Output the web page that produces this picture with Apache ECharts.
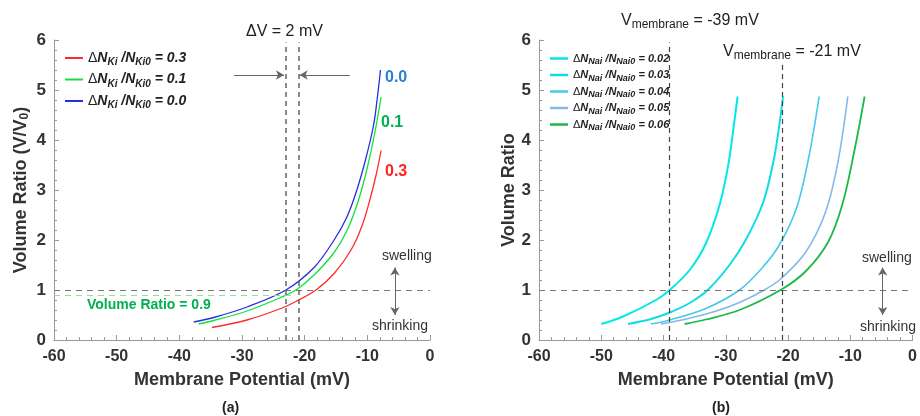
<!DOCTYPE html>
<html>
<head>
<meta charset="utf-8">
<script src="https://cdn.jsdelivr.net/npm/echarts@6/dist/echarts.min.js"></script>
<style>html,body{margin:0;padding:0;background:#fff}#c{width:920px;height:416px}</style>
</head>
<body>
<div id="c"></div>
<script>
// ---------- data ----------
var xTicks = [-60, -50, -40, -30, -20, -10, 0];
var yTicks = [0, 1, 2, 3, 4, 5, 6];

// Panel (a): K+ change
var kNames = ['0.3', '0.1', '0.0'];
var k03 = [[-34.8,0.25],[-29.2,0.40],[-23.8,0.63],[-21.4,0.77],[-18.2,1.00],[-15.3,1.33],[-12.6,1.80],[-10.8,2.30],[-9.5,2.85],[-8.6,3.30],[-7.8,3.79]];
var k01 = [[-36.9,0.32],[-34.5,0.39],[-29.2,0.58],[-24.0,0.84],[-21.4,1.00],[-18.5,1.30],[-15.3,1.75],[-13.2,2.20],[-11.4,2.80],[-10.0,3.45],[-8.8,4.15],[-7.8,4.86]];
var k00 = [[-37.7,0.36],[-34.5,0.45],[-29.2,0.66],[-23.0,1.00],[-18.5,1.45],[-15.3,2.00],[-13.3,2.45],[-11.8,2.95],[-10.3,3.60],[-9.0,4.30],[-8.4,4.85],[-7.9,5.40]];

// Panel (b): Na+ change
var nNames = ['0.02', '0.03', '0.04', '0.05', '0.06'];
var n02 = [[-50.0,0.32],[-46.5,0.47],[-41.2,0.80],[-39.0,1.00],[-35.8,1.40],[-33.2,1.93],[-31.0,2.70],[-29.6,3.50],[-28.8,4.20],[-28.1,4.87]];
var n03 = [[-45.7,0.32],[-42.0,0.42],[-39.0,0.55],[-35.8,0.74],[-32.9,1.00],[-29.4,1.50],[-26.8,2.00],[-24.0,2.75],[-22.3,3.60],[-21.4,4.30],[-20.8,4.87]];
var n04 = [[-42.0,0.32],[-39.0,0.40],[-33.2,0.63],[-27.8,1.00],[-24.1,1.45],[-21.4,1.90],[-18.6,2.65],[-16.6,3.70],[-15.0,4.87]];
var n05 = [[-40.4,0.32],[-36.0,0.43],[-31.5,0.58],[-27.8,0.75],[-23.8,1.00],[-21.2,1.22],[-17.2,1.75],[-14.0,2.55],[-12.0,3.55],[-10.4,4.87]];
var n06 = [[-36.6,0.32],[-33.2,0.41],[-27.8,0.60],[-21.2,1.00],[-17.2,1.37],[-13.6,1.95],[-11.3,2.70],[-9.4,3.75],[-7.7,4.87]];

// reference values
var refA = {vLines: [-23, -21], ratio: 1, greenRatio: 0.9};
var refB = {vLines: [-39, -21], ratio: 1};

// ---------- chart ----------
var FONT = '"Liberation Sans", Arial, Helvetica, sans-serif';
var chart = echarts.init(document.getElementById('c'), null, {renderer: 'canvas'});

function xAxis(gi) {
  return {
    gridIndex: gi, type: 'value', min: xTicks[0], max: xTicks[xTicks.length - 1], interval: 10,
    name: 'Membrane Potential (mV)', nameLocation: 'middle', nameGap: 31,
    nameTextStyle: {fontFamily: FONT, fontWeight: 'bold', fontSize: 18, color: '#333'},
    axisLine: {onZero: false, lineStyle: {color: '#999', width: 1}},
    axisTick: {show: true, inside: true, length: 5, lineStyle: {color: '#999'}},
    minorTick: {show: true, splitNumber: 5, length: 3, lineStyle: {color: '#999'}},
    axisLabel: {fontFamily: FONT, fontWeight: 'bold', fontSize: 16, color: '#333', margin: 9},
    splitLine: {show: false}
  };
}
function yAxis(gi, nm, gap) {
  return {
    gridIndex: gi, type: 'value', min: yTicks[0], max: yTicks[yTicks.length - 1], interval: 1,
    name: nm, nameLocation: 'middle', nameGap: gap,
    nameTextStyle: {fontFamily: FONT, fontWeight: 'bold', fontSize: 18, color: '#333',
      rich: {a: {fontFamily: FONT, fontWeight: 'bold', fontSize: 18, color: '#333'},
             s: {fontFamily: FONT, fontWeight: 'bold', fontSize: 12, color: '#333', padding: [8, 0, 0, 0]}}},
    axisLine: {show: true, onZero: false, lineStyle: {color: '#999', width: 1}},
    axisTick: {show: true, inside: true, length: 5, lineStyle: {color: '#999'}},
    minorTick: {show: true, splitNumber: 5, length: 3, lineStyle: {color: '#999'}},
    axisLabel: {fontFamily: FONT, fontWeight: 'bold', fontSize: 17, color: '#333', margin: 8},
    splitLine: {show: false}
  };
}

function vLineData(vals, top, style) {
  return vals.map(function (v, i) { return [{coord: [v, 0], lineStyle: style}, {coord: [v, top[i]]}]; });
}

function curve(name, axis, data, color, width) {
  return {name: name, type: 'line', xAxisIndex: axis, yAxisIndex: axis, data: data,
    smooth: 0.35,
    showSymbol: false, lineStyle: {color: color, width: width}, itemStyle: {color: color}};
}

var series = [
  curve(kNames[0], 0, k03, '#ff2a2a', 1.3),
  curve(kNames[1], 0, k01, '#14e03c', 1.3),
  curve(kNames[2], 0, k00, '#2430e0', 1.3),
  curve(nNames[0], 1, n02, '#00e8e8', 2),
  curve(nNames[1], 1, n03, '#10dce6', 2),
  curve(nNames[2], 1, n04, '#48c8ec', 1.6),
  curve(nNames[3], 1, n05, '#84b8ec', 1.6),
  curve(nNames[4], 1, n06, '#1cb848', 1.8)
];
// reference lines (a)
series[0].markLine = {silent: true, symbol: 'none', animation: false, label: {show: false},
  data: [
    [{coord: [-60, refA.ratio], lineStyle: {type: [6, 5], color: '#777', width: 1.2}}, {coord: [0, refA.ratio]}],
    [{coord: [-60, refA.greenRatio], lineStyle: {type: [6, 5], color: '#8fe08f', width: 1.2}}, {coord: [-21.5, refA.greenRatio]}]
  ].concat(vLineData(refA.vLines, [5.95, 5.95], {type: [5, 4], color: '#666', width: 1.5}))};
series[1].markLine = {silent: true, animation: false, label: {show: false}, symbol: ['none', 'arrow'], symbolSize: [7, 8],
  lineStyle: {type: 'solid', color: '#666', width: 1},
  data: [[{coord: [-31.3, 5.3]}, {coord: [-23.3, 5.3]}], [{coord: [-12.8, 5.3]}, {coord: [-20.8, 5.3]}]]};
series[2].markLine = {silent: true, animation: false, label: {show: false}, symbol: ['arrow', 'arrow'], symbolSize: [7, 8],
  lineStyle: {type: 'solid', color: '#666', width: 1},
  data: [[{coord: [-5.6, 0.5]}, {coord: [-5.6, 1.45]}]]};
// reference lines (b)
series[3].markLine = {silent: true, symbol: 'none', animation: false, label: {show: false},
  data: [
    [{coord: [-60, refB.ratio], lineStyle: {type: [6, 5], color: '#777', width: 1.2}}, {coord: [0, refB.ratio]}]
  ].concat(vLineData(refB.vLines, [5.95, 5.5], {type: [5, 4], color: '#444', width: 1.2}))};
series[4].markLine = {silent: true, animation: false, label: {show: false}, symbol: ['arrow', 'arrow'], symbolSize: [7, 8],
  lineStyle: {type: 'solid', color: '#666', width: 1},
  data: [[{coord: [-4.8, 0.5]}, {coord: [-4.8, 1.45]}]]};

var legRichA = {
  a: {fontFamily: FONT, fontWeight: 'bold', fontStyle: 'italic', fontSize: 14, color: '#222'},
  d: {fontFamily: FONT, fontWeight: 'normal', fontSize: 14, color: '#222'},
  s: {fontFamily: FONT, fontWeight: 'bold', fontStyle: 'italic', fontSize: 10, color: '#222', padding: [9, 0, 0, 0]}
};
var legRichB = {
  a: {fontFamily: FONT, fontWeight: 'bold', fontStyle: 'italic', fontSize: 11, color: '#222'},
  d: {fontFamily: FONT, fontWeight: 'normal', fontSize: 11, color: '#222'},
  s: {fontFamily: FONT, fontWeight: 'bold', fontStyle: 'italic', fontSize: 9, color: '#222', padding: [7, 0, 0, 0]}
};

var option = {
  animation: false,
  backgroundColor: '#fff',
  grid: [
    {left: 54, top: 40, width: 376, height: 300, containLabel: false},
    {left: 539, top: 40, width: 375, height: 300, containLabel: false}
  ],
  xAxis: [xAxis(0), xAxis(1)],
  yAxis: [yAxis(0, '{a|Volume Ratio (V/V}{s|0}{a|)}', 23), yAxis(1, 'Volume Ratio', 20)],
  legend: [
    {data: kNames, orient: 'vertical', left: 60, top: 46, itemWidth: 18, itemHeight: 2, itemGap: 5,
     icon: 'rect', selectedMode: false,
     formatter: function (n) { return '{d|Δ}{a|N}{s|Ki}{a| /N}{s|Ki0}{a| = ' + n + '}'; },
     textStyle: {rich: legRichA}},
    {data: nNames, orient: 'vertical', left: 545, top: 48, itemWidth: 18, itemHeight: 2.5, itemGap: 3,
     icon: 'rect', selectedMode: false,
     formatter: function (n) { return '{d|Δ}{a|N}{s|Nai}{a| /N}{s|Nai0}{a| = ' + n + '}'; },
     textStyle: {rich: legRichB}}
  ],
  graphic: [
    {type: 'text', left: 246, top: 24, style: {text: 'ΔV = 2 mV', font: '16px ' + FONT, fill: '#222'}},
    {type: 'text', left: 385, top: 70, style: {text: '0.0', font: 'bold 16px ' + FONT, fill: '#2a82d6'}},
    {type: 'text', left: 381, top: 115, style: {text: '0.1', font: 'bold 16px ' + FONT, fill: '#00b050'}},
    {type: 'text', left: 385, top: 164, style: {text: '0.3', font: 'bold 16px ' + FONT, fill: '#ff2020'}},
    {type: 'text', left: 87, top: 298, style: {text: 'Volume Ratio = 0.9', font: 'bold 14px ' + FONT, fill: '#00b050'}},
    {type: 'text', left: 382, top: 249, style: {text: 'swelling', font: '14px ' + FONT, fill: '#333'}},
    {type: 'text', left: 372, top: 319, style: {text: 'shrinking', font: '14px ' + FONT, fill: '#333'}},
    {type: 'text', left: 862, top: 251, style: {text: 'swelling', font: '14px ' + FONT, fill: '#333'}},
    {type: 'text', left: 860, top: 320, style: {text: 'shrinking', font: '14px ' + FONT, fill: '#333'}},
    {type: 'text', left: 621, top: 13, style: {text: '{v|V}{s|membrane}{v| = -39 mV}',
      rich: {v: {font: '16px ' + FONT, fill: '#222'}, s: {font: '12px ' + FONT, fill: '#222', padding: [8, 0, 0, 0]}}}},
    {type: 'text', left: 723, top: 44, style: {text: '{v|V}{s|membrane}{v| = -21 mV}',
      rich: {v: {font: '16px ' + FONT, fill: '#222'}, s: {font: '12px ' + FONT, fill: '#222', padding: [8, 0, 0, 0]}}}},
    {type: 'text', left: 222, top: 401, style: {text: '(a)', font: 'bold 14px ' + FONT, fill: '#222'}},
    {type: 'text', left: 712, top: 401, style: {text: '(b)', font: 'bold 14px ' + FONT, fill: '#222'}}
  ],
  series: series
};
chart.setOption(option);
</script>
</body>
</html>
